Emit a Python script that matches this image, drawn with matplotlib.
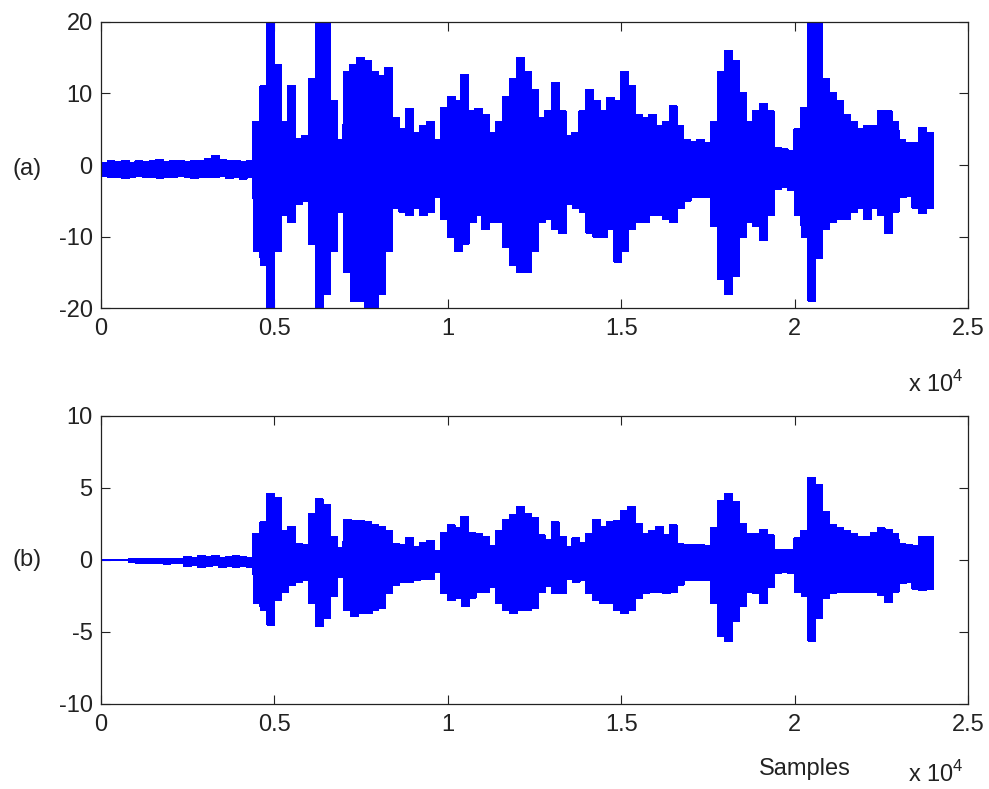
import numpy as np
import matplotlib
matplotlib.use('Agg')
import matplotlib.pyplot as plt
from matplotlib.ticker import FuncFormatter, FixedLocator

# ---- data: signal envelopes, one value per 200-sample block ----
block = 200

a_hi = [0.3, 0.5, 0.4, 0.6, 0.3, 0.5, 0.4, 0.5, 0.7, 0.4, 0.5, 0.6, 0.4, 0.5, 0.6, 0.8, 1.2, 0.7, 0.5, 0.6, 0.4, 0.5,
        6.0, 11, 24, 14, 6, 11, 3.6, 4.0, 12, 22, 20, 9, 3.5, 13, 14, 15, 14.5, 13,
        12.5, 13.5, 6.5, 5, 7.8, 4.5, 5.5, 6, 3.5, 8, 9.5, 9, 12.6, 7.5, 7.8, 7, 4.5, 6, 9.5, 12,
        15, 13, 10.5, 6.5, 7.5, 11.5, 7.5, 4, 4.5, 7.5, 10.5, 9, 7.5, 9.4, 9, 13, 11, 7, 6.5, 7,
        5.5, 6, 8.2, 5.5, 3.5, 3.2, 3.5, 3, 6, 13, 16, 14.5, 10, 6, 7.5, 8.5, 7.5, 2.4, 2.2, 2.0,
        5, 8, 22, 20, 12, 10, 9, 7, 6, 5, 5.5, 5.5, 7.5, 7.5, 6, 3.5, 3, 3, 5.2, 4.5]
a_lo = [-1.5, -1.7, -1.6, -1.8, -1.6, -1.5, -1.7, -1.6, -1.8, -1.6, -1.7, -1.5, -1.6, -1.8, -1.6, -1.7, -1.6, -1.5, -1.8, -1.7, -1.9, -1.7,
        -12, -14, -22, -12, -7, -8, -5.5, -5, -11, -22, -18, -12, -6.5, -15, -19, -19, -20, -20,
        -18, -12, -6, -6.5, -7, -6, -7, -6.5, -4.5, -7.5, -10, -12, -11, -8, -7, -9, -8, -8, -11.5, -14,
        -15, -15, -12, -8, -7.5, -9, -9.5, -5.5, -6, -6.5, -9.5, -10, -10, -9, -13.5, -12, -9, -8, -8, -7,
        -7, -7.5, -8, -6, -5, -4.5, -4.5, -4.5, -8.5, -16, -18, -15.5, -10, -8, -8.5, -10.5, -7, -3.4, -3, -3.5,
        -7, -10, -19, -13, -9, -8, -7.5, -7.5, -6.5, -6, -7.5, -6, -7, -9.5, -6.5, -4.5, -4.3, -6, -6.7, -6]

b_hi = [0.02, 0.02, 0.02, 0.02, 0.05, 0.05, 0.08, 0.05, 0.06, 0.05, 0.08, 0.06, 0.2, 0.15, 0.25, 0.2, 0.25, 0.15, 0.2, 0.25, 0.2, 0.15,
        1.8, 2.6, 4.6, 4.3, 2.0, 2.3, 1.1, 1.0, 3.2, 4.2, 3.8, 1.6, 0.8, 2.8, 2.7, 2.7, 2.6, 2.4,
        2.3, 2.0, 1.1, 1.0, 1.5, 0.9, 1.2, 1.3, 0.6, 1.9, 2.4, 2.2, 3.0, 1.9, 1.8, 1.6, 1.0, 2.0, 2.8, 3.1,
        3.7, 3.2, 2.9, 1.7, 1.4, 2.6, 1.6, 0.9, 1.5, 1.2, 1.8, 2.8, 2.3, 2.6, 2.7, 3.4, 3.7, 2.5, 1.8, 2.0,
        2.3, 1.7, 2.4, 1.1, 1.0, 1.0, 1.0, 0.95, 2.2, 4.1, 4.6, 4.0, 2.5, 1.8, 1.8, 2.1, 1.7, 0.7, 0.7, 0.7,
        1.5, 2.0, 5.7, 5.2, 3.3, 2.4, 2.2, 2.0, 1.8, 1.6, 1.6, 1.9, 2.2, 2.1, 1.8, 1.1, 1.0, 1.0, 1.6, 1.6]
b_lo = [-0.02, -0.02, -0.02, -0.02, -0.1, -0.2, -0.18, -0.22, -0.2, -0.25, -0.2, -0.22, -0.4, -0.35, -0.45, -0.4, -0.35, -0.45, -0.4, -0.45, -0.4, -0.45,
        -3.0, -3.5, -4.5, -2.8, -2.2, -1.7, -1.5, -1.4, -3.0, -4.6, -4.0, -2.5, -1.2, -3.5, -3.9, -3.7, -3.7, -3.5,
        -3.3, -2.3, -1.7, -1.5, -1.5, -1.4, -1.3, -1.3, -0.8, -2.3, -2.8, -2.6, -3.2, -2.6, -2.2, -2.2, -1.9, -3.0, -3.5, -3.7,
        -3.5, -3.5, -3.3, -2.2, -1.8, -2.3, -2.3, -1.3, -1.5, -1.4, -2.3, -2.8, -3.0, -3.0, -3.5, -3.7, -3.5, -2.6, -2.3, -2.2,
        -2.2, -2.3, -2.2, -1.7, -1.4, -1.4, -1.4, -1.4, -3.0, -5.3, -5.6, -4.2, -3.2, -2.2, -2.3, -3.0, -1.9, -0.9, -0.8, -0.9,
        -2.2, -2.5, -5.6, -4.0, -2.6, -2.3, -2.2, -2.2, -2.2, -2.2, -2.2, -2.2, -2.4, -2.9, -2.2, -1.6, -1.5, -2.0, -2.1, -2.0]

x_ticks = [0, 5000, 10000, 15000, 20000, 25000]
a_yticks = [-20, -10, 0, 10, 20]
b_yticks = [-10, -5, 0, 5, 10]
panel_labels = ['(a)', '(b)']
x_label = 'Samples'

plt.rcParams['font.family'] = ['Liberation Sans', 'DejaVu Sans']
plt.rcParams['font.size'] = 17
plt.rcParams['axes.unicode_minus'] = False
plt.rcParams['mathtext.fontset'] = 'custom'
plt.rcParams['mathtext.rm'] = 'Liberation Sans'


def waveform(hi, lo, sub=40):
    hi = np.asarray(hi, float)
    lo = np.asarray(lo, float)
    n = len(hi) * sub
    x = np.arange(n) * (block / sub)
    h = np.repeat(hi, sub)
    l = np.repeat(lo, sub)
    y = np.where(np.arange(n) % 2 == 0, h, l)
    return x, y


fig = plt.figure(figsize=(9.89, 7.89), dpi=100)
ax1 = fig.add_axes([101 / 989, 1 - 308 / 789, 867 / 989, 286 / 789])
ax2 = fig.add_axes([101 / 989, 1 - 704 / 789, 867 / 989, 288 / 789])

fmt = FuncFormatter(lambda v, p: ('%g' % (v / 1e4)))

for ax, hi, lo, yt in [(ax1, a_hi, a_lo, a_yticks), (ax2, b_hi, b_lo, b_yticks)]:
    x, y = waveform(hi, lo)
    ax.plot(x, y, color='#0000ff', lw=1.0, antialiased=False)
    ax.set_xlim(x_ticks[0], x_ticks[-1])
    ax.set_ylim(yt[0], yt[-1])
    ax.xaxis.set_major_locator(FixedLocator(x_ticks))
    ax.yaxis.set_major_locator(FixedLocator(yt))
    ax.xaxis.set_major_formatter(fmt)
    ax.tick_params(direction='in', top=True, right=True, length=6.5, width=0.8, colors='#222222',
                   labelcolor='#222222')
    ax.tick_params(axis='x', pad=7)
    ax.tick_params(axis='y', pad=6)
    for s in ax.spines.values():
        s.set_linewidth(0.9)
        s.set_color('#222222')

fig.text(27 / 989, 1 - 169 / 789, panel_labels[0], ha='center', va='center', color='#222222')
fig.text(27 / 989, 1 - 560 / 789, panel_labels[1], ha='center', va='center', color='#222222')
fig.text(908 / 989, 1 - 384 / 789, r'x 10$^{4}$', ha='left', va='center', color='#222222')
fig.text(908 / 989, 1 - 774 / 789, r'x 10$^{4}$', ha='left', va='center', color='#222222')
fig.text(805 / 989, 1 - 769 / 789, x_label, ha='center', va='center', color='#222222')

fig.savefig('out.png', dpi=100)
